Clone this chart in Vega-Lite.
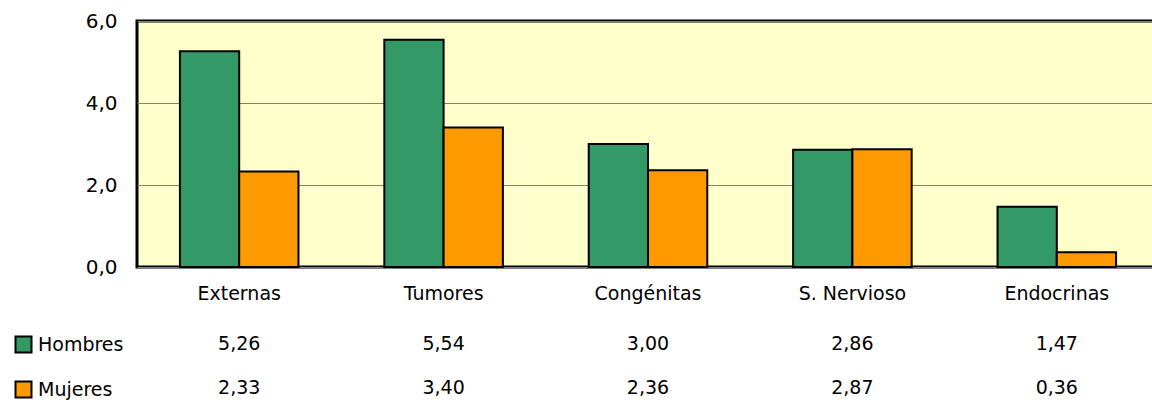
{
  "$schema": "https://vega.github.io/schema/vega-lite/v6.json",
  "padding": {"left": 0, "top": 9, "right": 0, "bottom": 0},
  "background": "white",
  "config": {
    "locale": {"number": {"decimal": ",", "thousands": ".", "grouping": [3], "currency": ["", " €"]}},
    "font": "Comic Sans MS, DejaVu Sans, sans-serif",
    "concat": {"spacing": 17},
    "view": {"stroke": null}
  },
  "data": {
    "values": [
      {"causa": "Externas", "sexo": "Hombres", "valor": 5.26},
      {"causa": "Externas", "sexo": "Mujeres", "valor": 2.33},
      {"causa": "Tumores", "sexo": "Hombres", "valor": 5.54},
      {"causa": "Tumores", "sexo": "Mujeres", "valor": 3.40},
      {"causa": "Congénitas", "sexo": "Hombres", "valor": 3.00},
      {"causa": "Congénitas", "sexo": "Mujeres", "valor": 2.36},
      {"causa": "S. Nervioso", "sexo": "Hombres", "valor": 2.86},
      {"causa": "S. Nervioso", "sexo": "Mujeres", "valor": 2.87},
      {"causa": "Endocrinas", "sexo": "Hombres", "valor": 1.47},
      {"causa": "Endocrinas", "sexo": "Mujeres", "valor": 0.36}
    ]
  },
  "vconcat": [
    {
      "width": 1022,
      "height": 246,
      "view": {"fill": "#FFFFCC", "stroke": "black", "strokeWidth": 3},
      "mark": {"type": "bar", "stroke": "black", "strokeWidth": 2},
      "encoding": {
        "x": {
          "field": "causa", "type": "nominal", "sort": null,
          "scale": {"paddingInner": 0.42, "paddingOuter": 0.21},
          "axis": {"title": null, "labelAngle": 0, "ticks": false, "domain": false, "labelPadding": 17, "labelFontSize": 19, "labelColor": "black", "grid": false}
        },
        "xOffset": {"field": "sexo", "type": "nominal", "sort": ["Hombres", "Mujeres"]},
        "y": {
          "field": "valor", "type": "quantitative",
          "scale": {"domain": [0, 6]},
          "axis": {"title": null, "values": [0, 2, 4, 6], "format": ".1f", "ticks": false, "domain": false, "labelPadding": 20, "labelFontSize": 20, "labelColor": "black", "gridColor": "#808080", "gridOpacity": 1, "gridWidth": 1, "minExtent": 135, "maxExtent": 135}
        },
        "color": {
          "field": "sexo", "type": "nominal",
          "scale": {"domain": ["Hombres", "Mujeres"], "range": ["#339966", "#FF9900"]},
          "legend": {"title": null, "orient": "none", "legendX": -123, "legendY": 314, "symbolType": "square", "symbolSize": 256, "symbolStrokeColor": "black", "symbolStrokeWidth": 2, "symbolOpacity": 1, "labelFontSize": 19, "labelColor": "black", "labelOffset": 5, "rowPadding": 20}
        }
      }
    },
    {
      "width": 1022,
      "height": 88,
      "mark": {"type": "text", "fontSize": 19, "color": "black"},
      "encoding": {
        "x": {"field": "causa", "type": "nominal", "sort": null, "scale": {"paddingInner": 0.42, "paddingOuter": 0.21}, "axis": null},
        "y": {"field": "sexo", "type": "nominal", "sort": ["Hombres", "Mujeres"], "axis": {"title": null, "labels": false, "ticks": false, "domain": false, "minExtent": 135, "maxExtent": 135}},
        "text": {"field": "valor", "type": "quantitative", "format": ".2f"}
      }
    }
  ]
}
